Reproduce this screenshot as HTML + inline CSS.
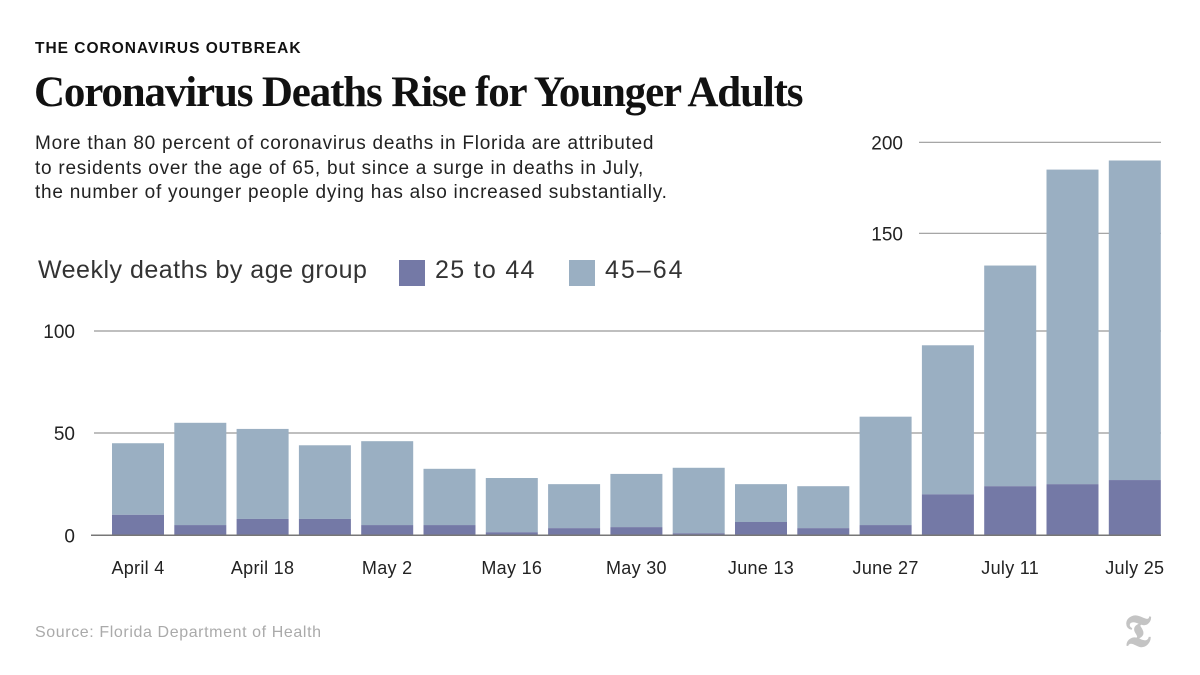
<!DOCTYPE html>
<html><head><meta charset="utf-8"><style>
body{margin:0;width:1200px;height:675px;background:#fff;overflow:hidden;font-family:"Liberation Sans",sans-serif;position:relative}
.a{position:absolute;white-space:nowrap}
</style></head><body>
<div class="a" style="left:35px;top:40px;font-size:15.5px;font-weight:bold;letter-spacing:1px;color:#111">THE CORONAVIRUS OUTBREAK</div>
<div class="a" style="left:34px;top:68px;font-family:'Liberation Serif',serif;font-size:43px;font-weight:bold;letter-spacing:-1.15px;color:#111">Coronavirus Deaths Rise for Younger Adults</div>
<div class="a" style="left:35px;top:132px;font-size:19px;letter-spacing:0.75px;line-height:24.5px;color:#222">More than 80 percent of coronavirus deaths in Florida are attributed<br>to residents over the age of 65, but since a surge in deaths in July,<br>the number of younger people dying has also increased substantially.</div>
<div class="a" style="left:38px;top:256px;font-size:25px;letter-spacing:0.5px;color:#333">Weekly deaths by age group</div>
<div class="a" style="left:399px;top:260px;width:26px;height:26px;background:#7479a6"></div>
<div class="a" style="left:435px;top:256px;font-size:25px;letter-spacing:1.3px;color:#333">25 to 44</div>
<div class="a" style="left:569px;top:260px;width:26px;height:26px;background:#9aafc2"></div>
<div class="a" style="left:605px;top:256px;font-size:25px;letter-spacing:2px;color:#333">45–64</div>
<svg id="chart" width="1200" height="675" style="position:absolute;left:0;top:0"></svg>
<div class="a" style="left:35px;top:624px;font-size:16px;letter-spacing:0.6px;color:#aaa">Source: Florida Department of Health</div>
<div class="a" style="left:1124px;top:606px;font-family:'Liberation Serif',serif;font-size:44px;font-weight:bold;color:#c4c4c4">𝕿</div>
<script>
const categories=["April 4","April 11","April 18","April 25","May 2","May 9","May 16","May 23","May 30","June 6","June 13","June 20","June 27","July 4","July 11","July 18","July 25"];
const young=[10,5,8,8,5,5,1.5,3.5,4,1,6.5,3.5,5,20,24,25,27];
const total=[45,55,52,44,46,32.5,28,25,30,33,25,24,58,93,133.5,185,190];
const tickValues=[0,50,100,150,200];
const tickPix=[535.3,433,331,233.3,142.3];
const NS="http://www.w3.org/2000/svg";
const svg=document.getElementById('chart');
function y(v){for(let i=0;i<tickValues.length-1;i++){if(v<=tickValues[i+1]||i===tickValues.length-2){const t=(v-tickValues[i])/(tickValues[i+1]-tickValues[i]);return tickPix[i]+t*(tickPix[i+1]-tickPix[i]);}}}
function x(i){return 112+i*62.3;}
const bw=52;
function mk(tag,attrs){const e=document.createElementNS(NS,tag);for(const k in attrs)e.setAttribute(k,attrs[k]);svg.appendChild(e);return e;}
tickValues.forEach((v,i)=>{
  const x0=v>=150?919:94;
  if(v>0){const l=mk('line',{x1:x0,x2:1161,y1:y(v),y2:y(v),stroke:'#999','stroke-width':1.2});
  
  }
  const t=mk('text',{x:v>=150?903:75,y:y(v)+7,'text-anchor':'end','font-size':19,fill:'#222','font-family':'Liberation Sans, sans-serif'});
  t.textContent=v;
  
  
});
categories.forEach((c,i)=>{
  const r1=mk('rect',{x:x(i),y:y(total[i]),width:bw,height:y(young[i])-y(total[i]),fill:'#9aafc2'});
  
  
  const r2=mk('rect',{x:x(i),y:y(young[i]),width:bw,height:y(0)-y(young[i]),fill:'#7479a6'});
  
  
  if(i%2===0){const t=mk('text',{x:x(i)+bw/2,y:574,'text-anchor':'middle','font-size':18,'letter-spacing':0.3,fill:'#222','font-family':'Liberation Sans, sans-serif'});
  t.textContent=c;
  
  }
});
const b=mk('line',{x1:91,x2:1161,y1:y(0),y2:y(0),stroke:'#777','stroke-width':1.5});


</script>
</body></html>
